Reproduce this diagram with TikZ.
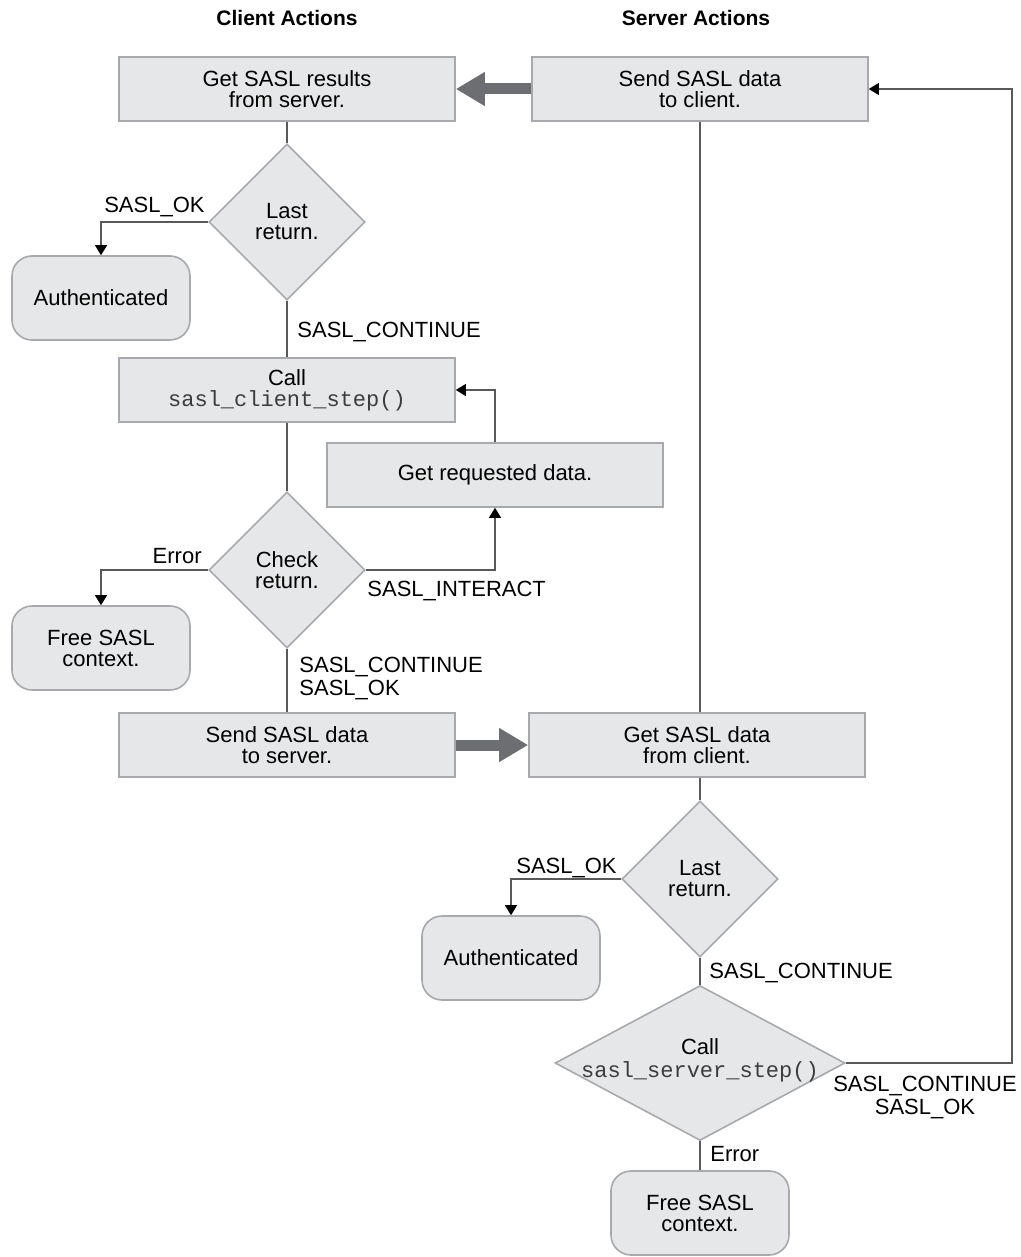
\documentclass[tikz,border=0pt]{standalone}
\usepackage{fontspec}
\setmainfont{Liberation Sans}
\setmonofont{Liberation Mono}
\usepackage{tikz}
\usetikzlibrary{shapes.geometric,arrows.meta}
\definecolor{boxfill}{HTML}{E6E7E8}
\definecolor{boxline}{HTML}{A7A9AC}
\definecolor{wiregray}{HTML}{58595B}
\definecolor{fatgray}{HTML}{6D6E71}
\definecolor{codegray}{HTML}{3C3C3C}
\newcommand{\fnc}[1]{{\color{codegray}\texttt{#1}}}

\begin{document}
\begin{tikzpicture}[x=0.5pt,y=-0.5pt,
  actbox/.style={rectangle,draw=boxline,fill=boxfill,line width=0.8pt,minimum width=168pt,minimum height=32pt,inner sep=0pt,align=center,font=\fontsize{11}{10.5}\selectfont},
  endbox/.style={actbox,rounded corners=10pt,minimum width=89pt,minimum height=42pt},
  decision/.style={diamond,draw=boxline,fill=boxfill,line width=0.8pt,inner sep=0pt,minimum width=78pt,minimum height=78pt,align=center,font=\fontsize{11}{10.5}\selectfont},
  lbl/.style={inner sep=0pt,font=\fontsize{11}{11.5}\selectfont},
  heading/.style={inner sep=0pt,font=\fontsize{10.5}{12}\selectfont\bfseries},
  wire/.style={draw=wiregray,line width=0.6pt},
  pointer/.style={wire,-{Triangle[length=5pt,width=6pt,color=black]}},
  fatarrow/.style={draw=fatgray,line width=5.5pt,-{Triangle[length=14.5pt,width=16pt,color=fatgray]}}]
\useasboundingbox (0,0) rectangle (1021,1257);
\begin{scope}[every node/.style={heading}]
\node (clienthead) at (287,18) {Client Actions};
\node (serverhead) at (696,18) {Server Actions};
\end{scope}
\begin{scope}[every node/.style={actbox}]
\node (gsr) at (287,89) {Get SASL results\\from server.};
\node (ssc) at (700,89) {Send SASL data\\to client.};
\node (callcli) at (287,390) {Call\\\fnc{sasl\_client\_step()}};
\node (grd) at (495,475) {Get requested data.};
\node (sendcli) at (287,745) {Send SASL data\\to server.};
\node (getsrv) at (697,745) {Get SASL data\\from client.};
\end{scope}
\begin{scope}[every node/.style={endbox}]
\node (authcli) at (101,298) {Authenticated};
\node (freecli) at (101,648) {Free SASL\\context.};
\node (authsrv) at (511,958) {Authenticated};
\node (freesrv) at (700,1213) {Free SASL\\context.};
\end{scope}
\begin{scope}[every node/.style={decision}]
\node (lastcli) at (287,222) {Last\\return.};
\node (chkcli) at (287,570) {Check\\return.};
\node (lastsrv) at (700,879) {Last\\return.};
\node[minimum width=145pt,minimum height=77.5pt] (srvstep) at (700,1063) {};
\end{scope}
\node[lbl,align=center] (srvsteptxt) at (700,1060) {Call\\\fnc{sasl\_server\_step()}};
\begin{scope}[every node/.style={lbl}]
\node[anchor=base east] (okcli) at (205,213) {SASL\_OK};
\node[anchor=base west] (contcli) at (297,337) {SASL\_CONTINUE};
\node[anchor=base east] (errcli) at (202,563) {Error};
\node[anchor=base west] (intcli) at (367,596) {SASL\_INTERACT};
\node[anchor=north west,align=left] (contokcli) at (299,657) {SASL\_CONTINUE\\SASL\_OK};
\node[anchor=base east] (oksrv) at (617,873) {SASL\_OK};
\node[anchor=base west] (contsrv) at (709,978) {SASL\_CONTINUE};
\node[anchor=north,align=center] (contoksrv) at (925,1076) {SASL\_CONTINUE\\SASL\_OK};
\node[anchor=base west] (errsrv) at (710,1161) {Error};
\end{scope}
\coordinate (loopturn) at (1012,1063);
% connectors
\path [fatarrow] (ssc) edge (gsr);
\path [fatarrow] (sendcli) edge (getsrv);
\path [wire] (gsr) edge (lastcli);
\path [wire] (lastcli) edge (callcli);
\path [wire] (callcli) edge (chkcli);
\path [wire] (chkcli) edge (sendcli);
\path [wire] (ssc.south) edge (ssc.south |- getsrv.north);
\path [wire] (getsrv.south -| lastsrv.north) edge (lastsrv);
\path [wire] (lastsrv) edge (srvstep);
\path [wire] (srvstep) edge (freesrv);
\draw [pointer] (lastcli.west) -| (authcli.north);
\draw [pointer] (chkcli.west) -| (freecli.north);
\draw [pointer] (chkcli.east) -| (grd.south);
\draw [pointer] (grd.north) |- (callcli.east);
\draw [pointer] (lastsrv.west) -| (authsrv.north);
\draw [pointer] (srvstep.east) -- (loopturn) |- (ssc.east);
\end{tikzpicture}
\end{document}
